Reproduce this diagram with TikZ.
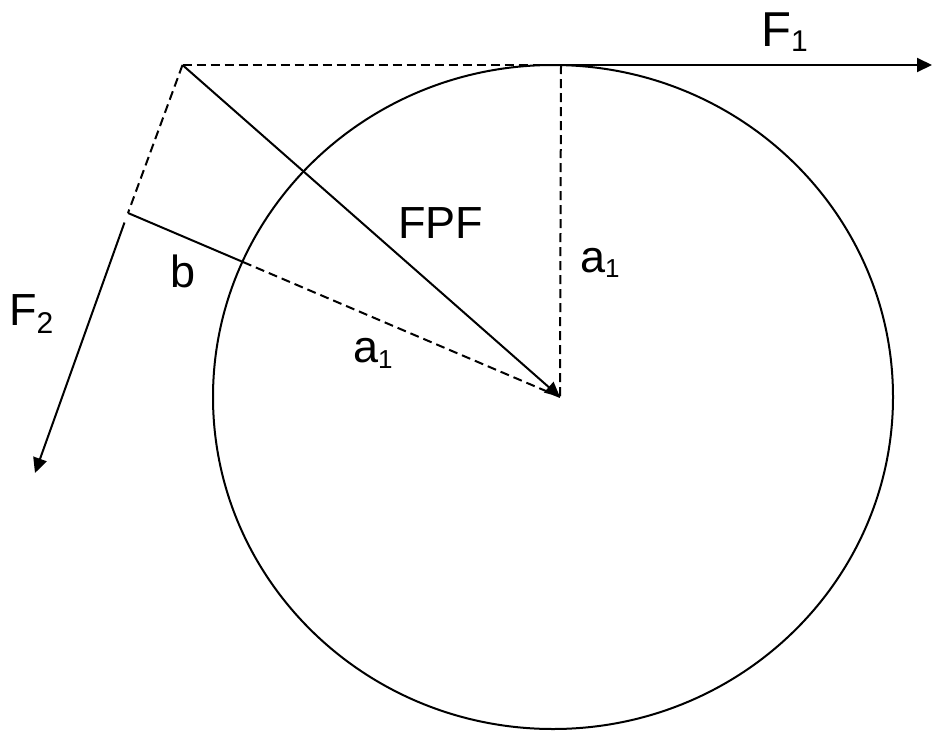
\documentclass[tikz,border=0pt]{standalone}
\usepackage{fontspec}
\setmainfont{Liberation Sans}
\usetikzlibrary{arrows.meta}
\tikzset{
  ln/.style={line width=2pt, black},
  dsh/.style={ln, dash pattern=on 9pt off 5pt},
  arr/.style={ln, -{Triangle[length=15pt,width=14pt]}},
  lbl/.style={inner sep=0pt, anchor=base west, font=\fontsize{45}{45}\selectfont},
}
\newcommand{\subs}[3]{\raisebox{-#1pt}{\fontsize{#2}{#2}\selectfont #3}}
\begin{document}
\begin{tikzpicture}[x=1pt,y=-1pt]
\useasboundingbox (0,0) rectangle (934,731);
% points
\coordinate (P) at (182.5,65);
\coordinate (T) at (561,65);
\coordinate (O) at (560,397);
\coordinate (C) at (553,397);
\coordinate (Q) at (128,213);
\coordinate (B) at (243,262);
\coordinate (F1e) at (932,65);
\coordinate (F2s) at (124.5,222.5);
\coordinate (F2e) at (35,473);
% circle
\draw[ln] (C) ellipse [x radius=340, y radius=332];
% dashed construction
\draw[dsh] (P) -- (T);
\draw[dsh] (T) -- (O);
\draw[dsh] (P) -- (Q);
\draw[dsh] (B) -- (O);
% solid lines
\draw[ln] (Q) -- (B);
\draw[arr] (P) -- (O);
\draw[arr] (T) -- (F1e);
\draw[arr] (F2s) -- (F2e);
% labels
\node[lbl, font=\fontsize{49}{49}\selectfont] (lF1) at (761,46) {F\subs{5}{30}{1}};
\node[lbl] (lFPF) at (398,238) {FPF};
\node[lbl] (la1r) at (580,272) {a\subs{5}{26}{1}};
\node[lbl] (la1l) at (353,362) {a\subs{6}{26}{1}};
\node[lbl] (lb) at (170,287) {b};
\node[lbl] (lF2) at (9,325) {F\subs{8}{30}{2}};
\end{tikzpicture}
\end{document}
